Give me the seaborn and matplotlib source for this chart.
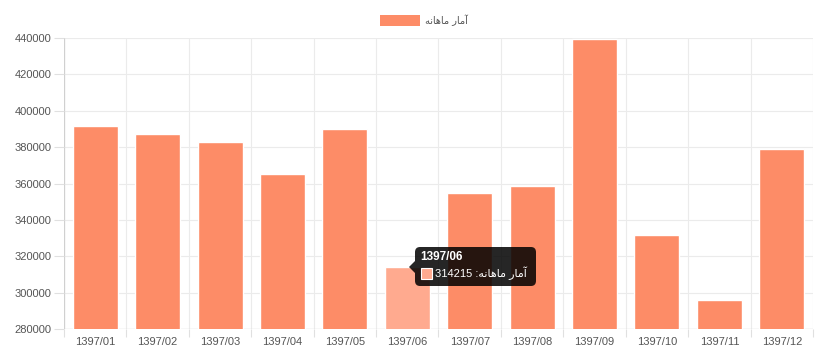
import matplotlib
matplotlib.use("Agg")
import matplotlib.pyplot as plt
import seaborn as sns
import pandas as pd
from matplotlib.patches import FancyBboxPatch, Rectangle, Polygon

months = ["1397/01", "1397/02", "1397/03", "1397/04", "1397/05", "1397/06",
          "1397/07", "1397/08", "1397/09", "1397/10", "1397/11", "1397/12"]
values = [391600, 387300, 382900, 365300, 390000, 314215,
          354800, 358700, 439500, 331800, 296000, 379000]
y_ticks = [280000, 300000, 320000, 340000, 360000, 380000, 400000, 420000, 440000]

# "آمار ماهانه" in shaped presentation forms, visual order
series_label = "\uFEEA\uFEE7\uFE8E\uFEEB\uFE8E\uFEE3 \uFEAD\uFE8E\uFEE3\uFE81"
hover_index = 5

bar_color = "#FD8C67"
hover_color = "#FFAA8F"

sns.set_theme(style="white")
plt.rcParams["font.family"] = ["Liberation Sans", "DejaVu Sans"]

df = pd.DataFrame({"month": months, "value": values})
palette = [hover_color if i == hover_index else bar_color for i in range(len(months))]

W, H = 817, 350
ax_l, ax_r, ax_t, ax_b = 64, 813, 38, 329
fig = plt.figure(figsize=(W / 100, H / 100), dpi=100)
ax = fig.add_axes([ax_l / W, 1 - ax_b / H, (ax_r - ax_l) / W, (ax_b - ax_t) / H])

sns.barplot(data=df, x="month", y="value", hue="month", palette=palette,
            legend=False, width=0.72, ax=ax, saturation=1)

ymin, ymax = 280000, 440000
ax.set_ylim(ymin, ymax)
ax.set_xlim(-0.5, len(months) - 0.5)
ax.set_yticks(y_ticks)
ax.set_yticklabels([str(t) for t in y_ticks])
ax.set_xlabel("")
ax.set_ylabel("")

# grid lines: horizontal at ticks, vertical at category boundaries
ax.grid(False)
for t in y_ticks:
    ax.axhline(t, color="#EBEBEB", lw=0.8, zorder=0)
for b in range(len(months) + 1):
    ax.axvline(b - 0.5, color="#EBEBEB", lw=0.8, zorder=0)

for s in ax.spines.values():
    s.set_visible(False)
ax.axvline(-0.5, color="#D0D0D0", lw=0.9, zorder=0.5)
ax.axhline(ymin, color="#D0D0D0", lw=0.9, zorder=0.5)

ax.set_xticks([i + 0.5 for i in range(-1, len(months))], minor=True)
ax.tick_params(axis="x", which="major", length=0, labelsize=8,
               labelcolor="#555555", pad=6)
ax.tick_params(axis="y", which="major", length=7, width=0.8, color="#E0E0E0",
               labelsize=8, labelcolor="#555555", pad=2, left=True)
ax.tick_params(axis="x", which="minor", length=6, width=0.8, color="#E0E0E0",
               bottom=True)

# legend at top centre
fig.patches.append(Rectangle((380 / W, 1 - 26 / H), 40 / W, 11 / H,
                             transform=fig.transFigure, facecolor=bar_color,
                             edgecolor="none"))
fig.text(425 / W, 1 - 20.5 / H, series_label, fontsize=7, color="#555555",
         va="center", ha="left", family=["DejaVu Sans"])

# hover tooltip for the highlighted month, placed in pixel space of the axes
cat_w = (ax_r - ax_l) / len(months)
def xdat(px):
    return (px - ax_l) / cat_w - 0.5
def ydat(py):
    return ymax - (py - ax_t) / (ax_b - ax_t) * (ymax - ymin)

bx0, bx1, by0, by1 = 415, 536, 247, 286
box = FancyBboxPatch((xdat(bx0), ydat(by1)), xdat(bx1) - xdat(bx0),
                     ydat(by0) - ydat(by1),
                     boxstyle="round,pad=0,rounding_size=0.08",
                     mutation_aspect=(ydat(by0) - ydat(by1)) / 0.6,
                     facecolor="#000000", alpha=0.85, edgecolor="none", zorder=5)
ax.add_patch(box)
ax.add_patch(Polygon([[xdat(bx0), ydat(261)], [xdat(409), ydat(267)],
                      [xdat(bx0), ydat(273)]],
                     closed=True, facecolor="#000000", alpha=0.85,
                     edgecolor="none", zorder=5))
ax.text(xdat(420), ydat(257), months[hover_index], color="white", fontsize=8.5,
        fontweight="bold", va="center", ha="left", zorder=6)
ax.add_patch(Rectangle((xdat(421), ydat(279)), xdat(432) - xdat(421),
                       ydat(268) - ydat(279),
                       facecolor=hover_color, edgecolor="white", lw=0.8, zorder=6))
ax.text(xdat(435), ydat(273.5), f"{values[hover_index]} :" + series_label,
        color="white", fontsize=8, va="center", ha="left", zorder=6)

fig.savefig("out.png", dpi=100)
